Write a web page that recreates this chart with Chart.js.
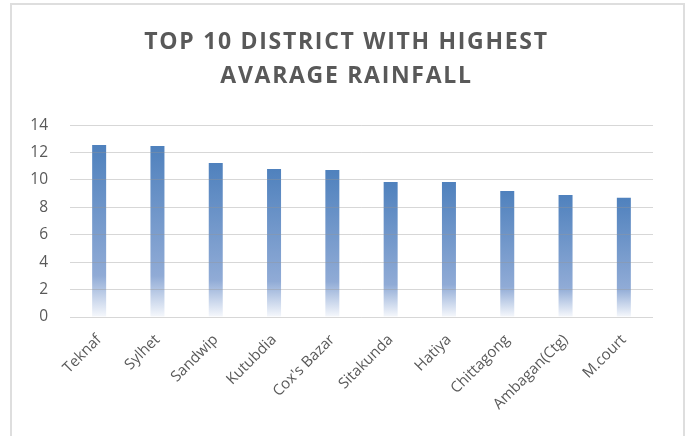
<!DOCTYPE html>
<html>
<head>
<meta charset="utf-8">
<script src="https://cdn.jsdelivr.net/npm/chart.js@4"></script>
<style>
  body { margin: 0; background: #fff; }
  #wrap { position: relative; width: 686px; height: 436px; overflow: hidden; }
  #frame { position: absolute; left: 10px; top: 3px; width: 671px; height: 470px; border: 2px solid #dedede; pointer-events: none; }
</style>
</head>
<body>
<div id="wrap">
  <canvas id="rainChart" width="686" height="436"></canvas>
  <div id="frame"></div>
</div>
<script>
// chart data
const districts = ['Teknaf', 'Sylhet', 'Sandwip', 'Kutubdia', "Cox's Bazar", 'Sitakunda', 'Hatiya', 'Chittagong', 'Ambagan(Ctg)', 'M.court'];
const avgRainfall = [12.54, 12.47, 11.24, 10.80, 10.72, 9.85, 9.85, 9.19, 8.90, 8.69];
const yTicks = [0, 2, 4, 6, 8, 10, 12, 14];
const titleLines = ['TOP 10 DISTRICT WITH HIGHEST', 'AVARAGE RAINFALL'];

document.addEventListener('DOMContentLoaded', function () {
  const ctx = document.getElementById('rainChart').getContext('2d');

  // each bar gets its own fade, dark at the top and white at the base
  function barFill(context) {
    const chart = context.chart;
    const yScale = chart.scales.y;
    if (!yScale || context.dataIndex === undefined) return '#4f81bd';
    const top = yScale.getPixelForValue(context.raw);
    const bottom = yScale.getPixelForValue(0);
    if (!isFinite(top) || !isFinite(bottom) || bottom <= top) return '#4f81bd';
    const g = chart.ctx.createLinearGradient(0, top, 0, bottom);
    g.addColorStop(0, 'rgb(79,129,189)');
    g.addColorStop(0.76, 'rgb(144,171,214)');
    g.addColorStop(1, 'rgb(246,248,252)');
    return g;
  }

  // spaced-out title, centred on the whole frame rather than the padded box
  const spacedTitle = {
    id: 'spacedTitle',
    afterLayout(chart) {
      const tb = chart.titleBlock;
      if (!tb || tb._spaced) return;
      const orig = tb.draw;
      tb.draw = function () {
        chart.ctx.save();
        chart.ctx.letterSpacing = '1.7px';
        chart.ctx.translate(20, 0);
        orig.apply(this, arguments);
        chart.ctx.restore();
      };
      tb._spaced = true;
    }
  };

  new Chart(ctx, {
    type: 'bar',
    data: {
      labels: districts,
      datasets: [{
        label: 'Avarage Rainfall',
        data: avgRainfall,
        backgroundColor: barFill,
        borderWidth: 0,
        barPercentage: 0.24,
        categoryPercentage: 1
      }]
    },
    options: {
      responsive: false,
      animation: false,
      layout: { padding: { left: 0, right: 33, top: 0, bottom: 0 } },
      plugins: {
        legend: { display: false },
        tooltip: { enabled: false },
        title: {
          display: true,
          text: titleLines,
          color: '#595959',
          font: { family: 'Open Sans', size: 23, weight: 'bold', lineHeight: 1.48 },
          padding: { top: 25, bottom: 32 }
        }
      },
      scales: {
        x: {
          grid: { display: false, drawTicks: false },
          border: { display: false },
          ticks: {
            color: '#595959',
            font: { family: 'Open Sans', size: 15 },
            maxRotation: 45,
            minRotation: 45,
            padding: 14,
            autoSkip: false
          },
          afterFit: s => { s.height = 119; }
        },
        y: {
          min: 0,
          max: 14,
          afterBuildTicks: s => { s.ticks = yTicks.map(v => ({ value: v })); },
          grid: { color: 'rgba(150,150,150,0.38)', lineWidth: 1, drawTicks: false, z: 1 },
          border: { display: false },
          ticks: {
            color: '#595959',
            font: { family: 'Open Sans', size: 15.5 },
            padding: 22
          },
          afterFit: s => { s.width = 70; }
        }
      }
    },
    plugins: [spacedTitle]
  });
});
</script>
</body>
</html>
